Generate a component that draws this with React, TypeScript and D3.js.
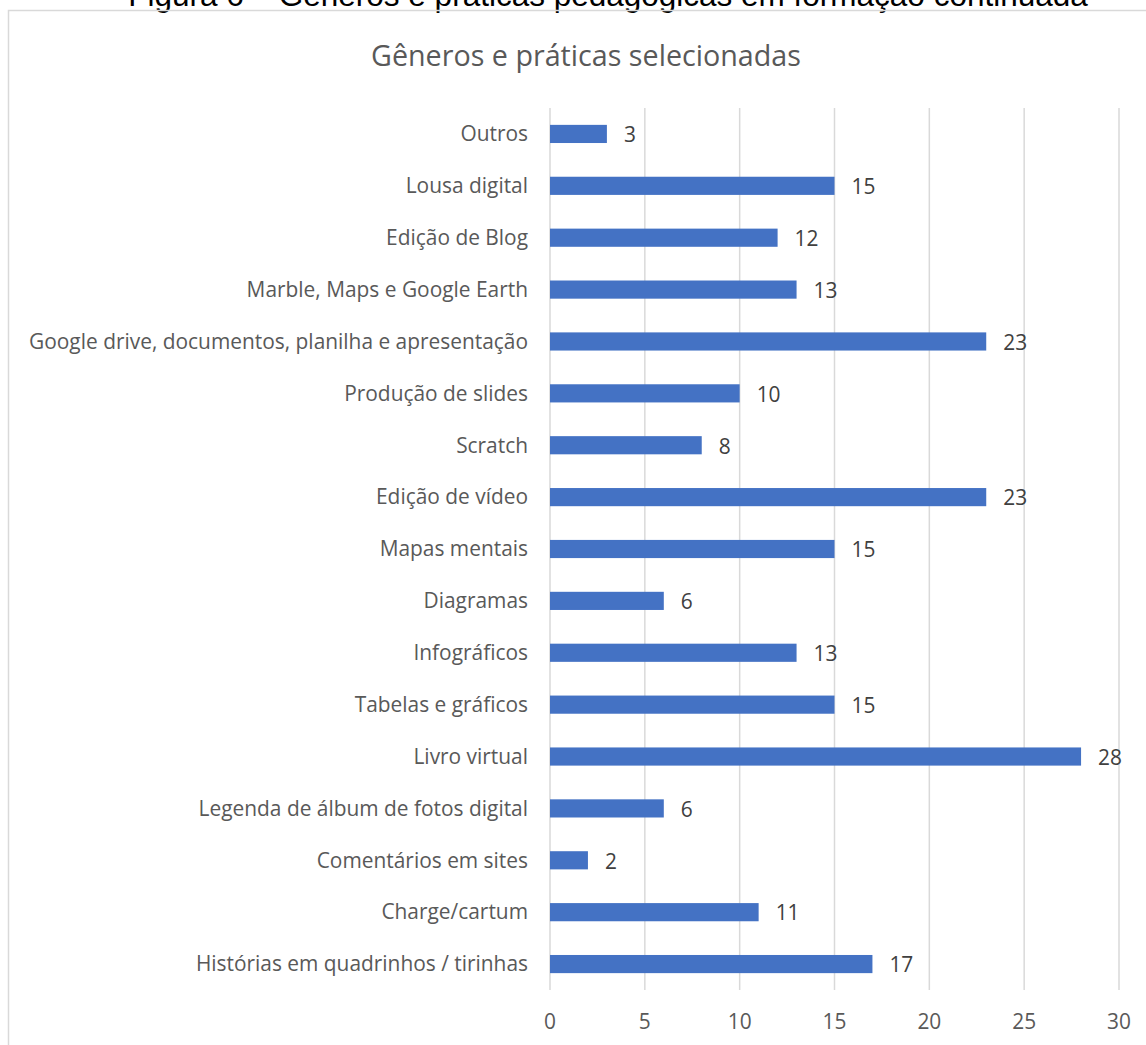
import React from "react";
import * as d3 from "d3";

const categories = [
  "Outros",
  "Lousa digital",
  "Edição de Blog",
  "Marble, Maps e Google Earth",
  "Google drive, documentos, planilha e apresentação",
  "Produção de slides",
  "Scratch",
  "Edição de vídeo",
  "Mapas mentais",
  "Diagramas",
  "Infográficos",
  "Tabelas e gráficos",
  "Livro virtual",
  "Legenda de álbum de fotos digital",
  "Comentários em sites",
  "Charge/cartum",
  "Histórias em quadrinhos / tirinhas",
];
const values = [3, 15, 12, 13, 23, 10, 8, 23, 15, 6, 13, 15, 28, 6, 2, 11, 17];
const xTicks = [0, 5, 10, 15, 20, 25, 30];
const title = "Gêneros e práticas selecionadas";
const caption = "Figura 6 – Gêneros e práticas pedagógicas em formação continuada";

export default function App() {
  const W = 1146, H = 1045;
  const left = 550, right = 1119, top = 108, bottom = 990;
  const x = d3.scaleLinear().domain([0, 30]).range([left, right]);
  const y = d3.scaleBand().domain(categories).range([top, bottom]).paddingInner(0.65).paddingOuter(0.325);
  const font = "'Open Sans', sans-serif";
  const fs = 20.9;
  return (
    <svg width={W} height={H} style={{ position: "absolute", left: 0, top: 0, background: "#fff" }}>
      <text x={608} y={6} textAnchor="middle" fontFamily="'Liberation Sans', Arial, sans-serif" fontSize={31.5} fill="#000">
        {caption}
      </text>
      <rect x={8.5} y={10.5} width={1160} height={1060} fill="none" stroke="#D9D9D9" strokeWidth={1.5} />
      <text x={586} y={66} textAnchor="middle" fontFamily={font} fontSize={28.7} fill="#595959">
        {title}
      </text>
      {xTicks.map((t) => (
        <g key={t}>
          <line x1={x(t)} x2={x(t)} y1={top} y2={bottom} stroke="#D9D9D9" strokeWidth={1.5} />
          <text x={x(t)} y={1022} dy="0.35em" textAnchor="middle" fontFamily={font} fontSize={fs} fill="#595959">
            {t}
          </text>
        </g>
      ))}
      {categories.map((c, i) => {
        const yy = y(c)!;
        const bw = y.bandwidth();
        return (
          <g key={c}>
            <rect x={x(0)} y={yy} width={x(values[i]) - x(0)} height={bw} fill="#4472C4" />
            <text x={528} y={yy + bw / 2} dy="0.35em" textAnchor="end" fontFamily={font} fontSize={fs} fill="#595959">
              {c}
            </text>
            <text x={x(values[i]) + 17} y={yy + bw / 2 + 1} dy="0.35em" textAnchor="start" fontFamily={font} fontSize={fs} fill="#404040">
              {values[i]}
            </text>
          </g>
        );
      })}
    </svg>
  );
}
